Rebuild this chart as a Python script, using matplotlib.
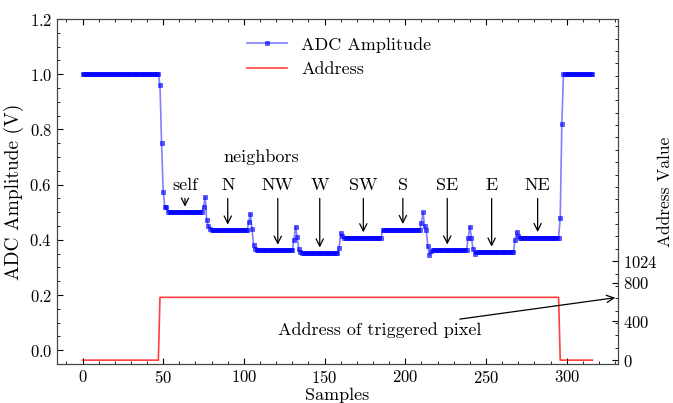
import numpy as np
import matplotlib
matplotlib.use("Agg")
import matplotlib.pyplot as plt
from matplotlib.ticker import AutoMinorLocator, MultipleLocator

plt.rcParams['font.family'] = 'serif'
plt.rcParams['font.serif'] = ['cmr10']
plt.rcParams['mathtext.fontset'] = 'cm'
plt.rcParams['axes.formatter.use_mathtext'] = True
plt.rcParams['axes.unicode_minus'] = False

# ADC amplitude, run-length encoded (value, number of consecutive samples)
adc_levels = [1.0, 0.96, 0.75, 0.575, 0.52, 0.50,
              0.52, 0.555, 0.47, 0.45, 0.44, 0.435,
              0.463, 0.495, 0.44, 0.38, 0.368, 0.362,
              0.40, 0.448, 0.41, 0.365, 0.354, 0.352,
              0.372, 0.423, 0.412, 0.405, 0.407,
              0.434, 0.437,
              0.462, 0.499, 0.45, 0.434, 0.376, 0.345, 0.358, 0.363,
              0.408, 0.448, 0.408, 0.365, 0.35, 0.355,
              0.40, 0.43, 0.415, 0.405, 0.408,
              0.48, 0.82, 1.0]
adc_counts = [48, 1, 1, 1, 2, 22,
              1, 1, 1, 1, 1, 23,
              1, 1, 1, 1, 1, 23,
              1, 1, 1, 1, 1, 23,
              1, 1, 1, 1, 23,
              1, 23,
              1, 1, 1, 1, 1, 1, 1, 22,
              1, 1, 1, 1, 1, 24,
              1, 1, 1, 1, 24,
              1, 1, 19]

# Address value, run-length encoded
addr_levels = [0, 650, 0]
addr_counts = [48, 248, 21]

# Pixel labels and their arrow positions
pixel_names = ['self', 'N', 'NW', 'W', 'SW', 'S', 'SE', 'E', 'NE']
pixel_samples = [63.5, 90, 121, 147, 174, 198.5, 226, 253.5, 282]
pixel_levels = [0.50, 0.435, 0.362, 0.352, 0.407, 0.437, 0.363, 0.355, 0.408]

yticks_left = [0.0, 0.2, 0.4, 0.6, 0.8, 1.0, 1.2]
yticks_right = [0, 400, 800, 1024]
xticks = [0, 50, 100, 150, 200, 250, 300]

adc = np.repeat(adc_levels, adc_counts)
addr = np.repeat(addr_levels, addr_counts)
samples = np.arange(len(adc))

fig = plt.figure(figsize=(6.73, 4.03), dpi=100)
ax = fig.add_axes([57/673, 1-364/403, (618-57)/673, (364-19)/403])
ax2 = ax.twinx()

l1, = ax.plot(samples, adc, color=(0, 0, 1, 0.5), lw=1.2, marker='s',
              markersize=2.2, markerfacecolor=(0, 0, 1, 0.65),
              markeredgecolor=(0, 0, 1, 0.65), markeredgewidth=0.5,
              label='ADC Amplitude')
l2, = ax2.plot(samples, addr, color=(1, 0, 0, 0.75), lw=1.2, label='Address')

ax.set_ylim(-0.05, 1.2)
ax.set_xlim(-15.8, 331.8)
ax2.set_ylim(-40, 3530)

ax.set_yticks(yticks_left)
ax.set_xticks(xticks)
ax2.set_yticks(yticks_right)
ax.xaxis.set_minor_locator(AutoMinorLocator(5))
ax.yaxis.set_minor_locator(AutoMinorLocator(4))
ax2.yaxis.set_minor_locator(MultipleLocator(128))

ax.tick_params(which='both', direction='in', top=True, labelsize=12)
ax.tick_params(which='major', length=4)
ax.tick_params(which='minor', length=2)
ax2.tick_params(which='both', direction='in', labelsize=12)
ax2.tick_params(which='major', length=4)
ax2.tick_params(which='minor', length=2)

for a in (ax, ax2):
    for s in a.spines.values():
        s.set_color('#444444')

ax.set_xlabel('Samples', fontsize=13, labelpad=1)
ax.set_ylabel('ADC Amplitude (V)', fontsize=14)
ax2.set_ylabel('Address Value', fontsize=12.5, labelpad=0)

for name, s, lev in zip(pixel_names, pixel_samples, pixel_levels):
    ax.annotate(name, xy=(s, lev + 0.01), xytext=(s, 0.57),
                ha='center', va='bottom', fontsize=13,
                arrowprops=dict(arrowstyle='->', color='black', lw=0.9))
ax.text(111, 0.70, 'neighbors', ha='center', va='center', fontsize=13)

ax2.annotate('Address of triggered pixel', xy=(1.0, 650),
             xycoords=('axes fraction', 'data'), xytext=(184, 310),
             textcoords='data', ha='center', va='center', fontsize=13,
             arrowprops=dict(arrowstyle='->', color='black', lw=0.9))

ax.legend([l1, l2], ['ADC Amplitude', 'Address'], loc='upper left',
          bbox_to_anchor=(0.31, 0.995), frameon=False, fontsize=13,
          handlelength=2.2)

fig.savefig('out.png', dpi=100)
